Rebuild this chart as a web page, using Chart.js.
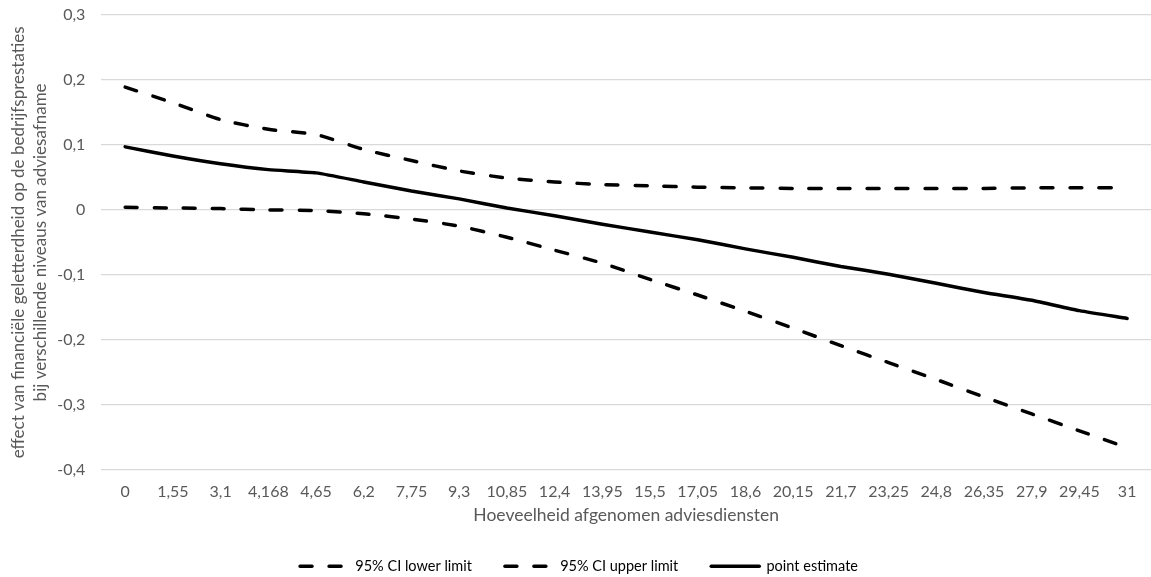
<!DOCTYPE html>
<html>
<head>
<meta charset="utf-8">
<script src="https://cdn.jsdelivr.net/npm/chart.js@4"></script>
<style>
  html, body { margin: 0; padding: 0; background: #fff; }
  #wrap { width: 1151px; height: 577px; }
</style>
</head>
<body>
<div id="wrap"><canvas id="line-chart"></canvas></div>
<script>
// x-as: hoeveelheid afgenomen adviesdiensten
const labels = ['0', '1,55', '3,1', '4,168', '4,65', '6,2', '7,75', '9,3', '10,85', '12,4', '13,95',
  '15,5', '17,05', '18,6', '20,15', '21,7', '23,25', '24,8', '26,35', '27,9', '29,45', '31'];

const lowerLimit = [0.004, 0.003, 0.002, 0.000, -0.001, -0.006, -0.014, -0.025, -0.042, -0.062, -0.082,
  -0.107, -0.131, -0.156, -0.182, -0.209, -0.235, -0.261, -0.288, -0.314, -0.340, -0.366];
const upperLimit = [0.189, 0.165, 0.139, 0.124, 0.116, 0.093, 0.076, 0.060, 0.049, 0.043, 0.039,
  0.037, 0.035, 0.034, 0.033, 0.033, 0.033, 0.033, 0.033, 0.034, 0.034, 0.034];
const pointEstimate = [0.097, 0.083, 0.071, 0.062, 0.057, 0.043, 0.029, 0.017, 0.003, -0.009, -0.022,
  -0.034, -0.046, -0.060, -0.073, -0.087, -0.099, -0.113, -0.127, -0.139, -0.155, -0.167];

const grey = "#595959";
const font = "Lato, 'Liberation Sans', sans-serif";

function lijn(label, data, dash) {
  return {
    label: label,
    data: data,
    borderColor: "#000",
    borderWidth: 3.5,
    borderDash: dash,
    borderCapStyle: "round",
    pointRadius: 0,
    pointStyle: "line",
    tension: 0.2,
    fill: false,
  };
}

new Chart(document.getElementById("line-chart"), {
  type: "line",
  data: {
    labels: labels,
    datasets: [
      lijn("95% CI lower limit", lowerLimit, [12, 17]),
      lijn("95% CI upper limit", upperLimit, [12, 17]),
      lijn("point estimate", pointEstimate, []),
    ],
  },
  options: {
    maintainAspectRatio: false,
    animation: false,
    layout: { padding: { top: 15, right: 0, left: 7, bottom: 0 } },
    plugins: {
      tooltip: { enabled: false },
      legend: {
        display: true,
        position: "bottom",
        maxHeight: 51,
        labels: {
          usePointStyle: true,
          pointStyle: "line",
          pointStyleWidth: 48,
          boxWidth: 48,
          color: "#000",
          padding: 33,
          font: { family: font, size: 14.5 },
          // streepjes ook in de legenda
          generateLabels: (chart) =>
            Chart.defaults.plugins.legend.labels.generateLabels(chart).map((item) => {
              const ds = chart.data.datasets[item.datasetIndex];
              item.lineDash = ds.borderDash;
              item.lineCap = "round";
              item.lineWidth = 3.5;
              item.strokeStyle = "#000";
              return item;
            }),
        },
      },
    },
    scales: {
      x: {
        offset: true,
        grid: { display: false },
        border: { display: false },
        ticks: { color: grey, font: { family: font, size: 16 }, maxRotation: 0, autoSkip: false, padding: 4 },
        title: {
          display: true,
          text: "Hoeveelheid afgenomen adviesdiensten",
          color: grey,
          font: { family: font, size: 17.5 },
          padding: { top: 0, bottom: 0 },
        },
      },
      y: {
        min: -0.4,
        max: 0.3,
        grid: { color: "#d9d9d9", lineWidth: 1.2, drawTicks: true, tickLength: 16, tickColor: "rgba(0,0,0,0)" },
        border: { display: false },
        ticks: {
          stepSize: 0.1,
          color: grey,
          padding: 0,
          font: { family: font, size: 16 },
          callback: (v) => (Math.round(v * 10) / 10).toString().replace(".", ","),
        },
        title: {
          display: true,
          text: ["effect van financiële geletterdheid op de bedrijfsprestaties", "bij verschillende niveaus van adviesafname"],
          color: grey,
          font: { family: font, size: 17, lineHeight: 1.3 },
          padding: { top: 0, bottom: 6 },
        },
      },
    },
  },
});
</script>
</body>
</html>
